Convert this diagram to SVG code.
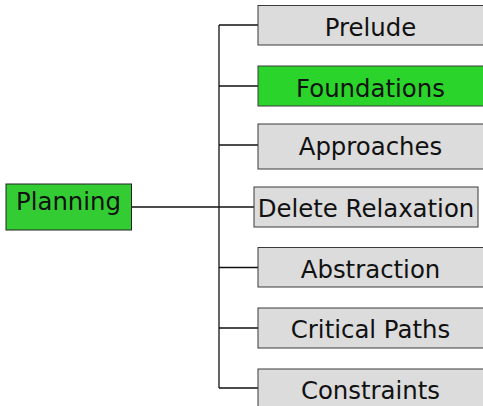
<svg xmlns="http://www.w3.org/2000/svg" width="483" height="406" viewBox="0 0 483 406">
<style>
.box{fill:#dcdcdc;stroke:#3a3a3a;stroke-width:1}
.hl{fill:#2ad42a;stroke:#3a3a3a;stroke-width:1}
.root{fill:#33cc33;stroke:#222;stroke-width:1}
text{font-family:"DejaVu Sans","Liberation Sans",sans-serif;font-size:24.4px;fill:#111;text-anchor:middle}
.conn{stroke:#111;stroke-width:1.3;fill:none}
</style>
<rect width="483" height="406" fill="#fff"/>
<g id="connectors">
<line class="conn" x1="131.5" y1="207" x2="219" y2="207" stroke-width="2"/>
<line class="conn" x1="219" y1="25" x2="219" y2="388" stroke-width="1.8"/>
<line class="conn" x1="219" y1="25" x2="258" y2="25"/>
<line class="conn" x1="219" y1="86" x2="258" y2="86"/>
<line class="conn" x1="219" y1="145" x2="258" y2="145"/>
<line class="conn" x1="219" y1="207" x2="254" y2="207"/>
<line class="conn" x1="219" y1="267.5" x2="258" y2="267.5"/>
<line class="conn" x1="219" y1="328" x2="258" y2="328"/>
<line class="conn" x1="219" y1="388" x2="258" y2="388"/>
</g>
<g id="planning"><rect class="root" x="6" y="184" width="125.5" height="46"/><text x="68.5" y="210">Planning</text></g>
<g id="prelude"><rect class="box" x="258" y="5.5" width="235" height="39.5"/><text x="370.5" y="36">Prelude</text></g>
<g id="foundations"><rect class="hl" x="258" y="66" width="235" height="40"/><text x="370.5" y="96.5">Foundations</text></g>
<g id="approaches"><rect class="box" x="258" y="124" width="235" height="45"/><text x="370.5" y="154.5">Approaches</text></g>
<g id="delete-relaxation"><rect class="box" x="254" y="187" width="224" height="40"/><text x="366" y="217">Delete Relaxation</text></g>
<g id="abstraction"><rect class="box" x="258" y="247.5" width="235" height="39.5"/><text x="370.5" y="277.5">Abstraction</text></g>
<g id="critical-paths"><rect class="box" x="258" y="308" width="235" height="40"/><text x="370.5" y="338">Critical Paths</text></g>
<g id="constraints"><rect class="box" x="258" y="369" width="235" height="45"/><text x="370.5" y="398.5">Constraints</text></g>
</svg>
